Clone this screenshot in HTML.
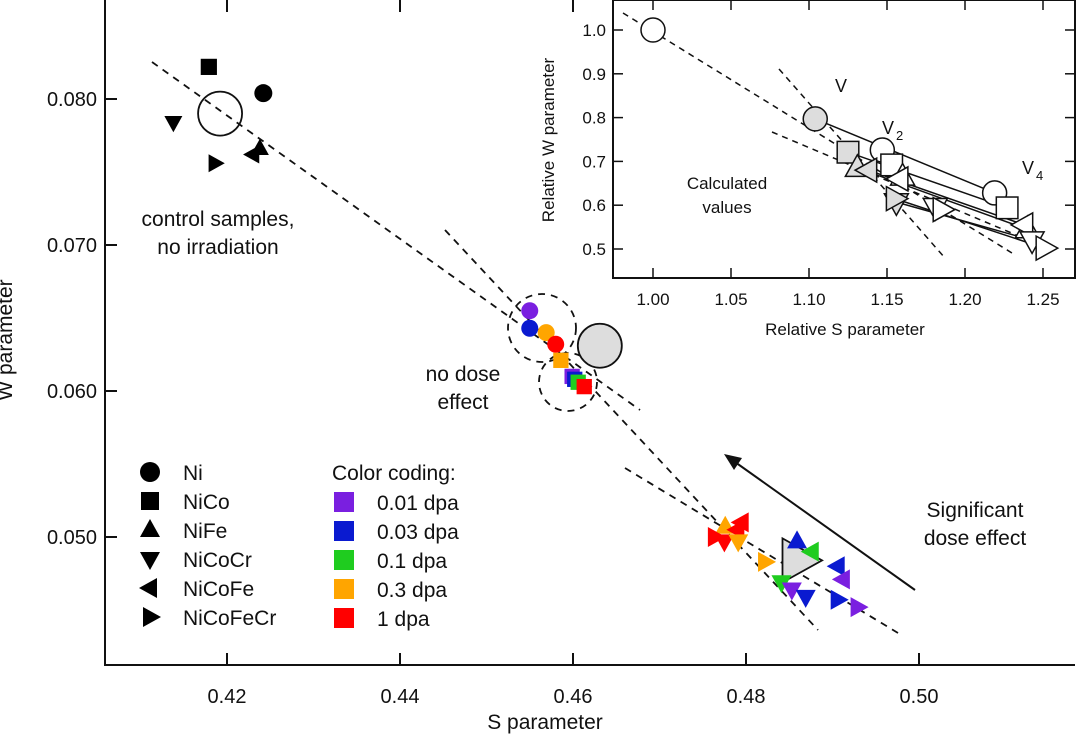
<!DOCTYPE html>
<html><head><meta charset="utf-8"><style>
body{margin:0;background:#fff}
svg{display:block;font-family:"Liberation Sans",sans-serif}
</style></head><body>
<svg id="c" width="1080" height="738" viewBox="0 0 1080 738"></svg>
<script>
// main data
const xTicks=[0.42,0.44,0.46,0.48,0.50];
const xTickLabels=["0.42","0.44","0.46","0.48","0.50"];
const yTicks=[0.050,0.060,0.070,0.080];
const yTickLabels=["0.050","0.060","0.070","0.080"];
const ctrlShapes=["square","circle","down","right","left","up"];
const ctrlS=[0.4179,0.4242,0.4138,0.4186,0.4230,0.4238];
const ctrlW=[0.0822,0.0804,0.0784,0.0756,0.0762,0.0766];
const noDoseShapes=["circle","circle","circle","circle","square","square","square","square","square"];
const noDoseColors=["#7a1fe0","#0a1ad0","#ffa500","#f00","#ffa500","#7a1fe0","#0a1ad0","#1fcc1f","#f00"];
const noDoseS=[0.4550,0.4550,0.4569,0.4580,0.4586,0.4599,0.4602,0.4606,0.4613];
const noDoseW=[0.0655,0.0643,0.0640,0.0632,0.0621,0.0610,0.0608,0.0606,0.0603];
const doseShapes=["up","right","left","left","down","down","right","up","left","left","left","down","down","down","right","right"];
const doseColors=["#ffa500","#f00","#f00","#f00","#f00","#ffa500","#ffa500","#0a1ad0","#1fcc1f","#0a1ad0","#7a1fe0","#1fcc1f","#7a1fe0","#0a1ad0","#0a1ad0","#7a1fe0"];
const doseS=[0.4776,0.4764,0.4795,0.4790,0.4775,0.4791,0.4822,0.4859,0.4876,0.4906,0.4912,0.4841,0.4853,0.4869,0.4906,0.4929];
const doseW=[0.0507,0.0500,0.0510,0.0505,0.0497,0.0497,0.0483,0.0497,0.0490,0.0480,0.0471,0.0469,0.0464,0.0459,0.0457,0.0452];
const refCtrl=[0.4192,0.0790];
const refNoDose=[0.4631,0.0631];
const refDose=[0.4860,0.0484];
// inset data
const ixTicks=[1.00,1.05,1.10,1.15,1.20,1.25];
const ixTickLabels=["1.00","1.05","1.10","1.15","1.20","1.25"];
const iyTicks=[0.5,0.6,0.7,0.8,0.9,1.0];
const iyTickLabels=["0.5","0.6","0.7","0.8","0.9","1.0"];
const iShapes=["circle","square","up","left","down","right"];
const vS=[1.104,1.125,1.131,1.138,1.156,1.155];
const vW=[0.797,0.721,0.685,0.680,0.607,0.615];
const v2S=[1.147,1.153,1.160,1.158,1.181,1.185];
const v2W=[0.726,0.692,0.665,0.660,0.596,0.590];
const v4S=[1.219,1.227,1.240,1.238,1.243,1.251];
const v4W=[0.628,0.594,0.545,0.555,0.520,0.502];
const iRef=[1.00,1.00];

const NS="http://www.w3.org/2000/svg";
const svg=document.getElementById('c');
function el(t,a,p){const e=document.createElementNS(NS,t);for(const k in a)e.setAttribute(k,a[k]);(p||svg).appendChild(e);return e;}
const X=s=>227+(s-0.42)*8650;
const Y=w=>99+(0.080-w)*14600;
const IX=s=>653+(s-1)*1560;
const IY=w=>30+(1-w)*438;

function marker(shape,cx,cy,r,fill,stroke,sw,g){
  let e;
  if(shape==="circle")e=el('circle',{cx,cy,r},g);
  else if(shape==="square")e=el('rect',{x:cx-r*0.9,y:cy-r*0.9,width:r*1.8,height:r*1.8},g);
  else{
    let p;
    if(shape==="up")p=[[0,-1.1],[1,0.7],[-1,0.7]];
    if(shape==="down")p=[[0,1.1],[1,-0.7],[-1,-0.7]];
    if(shape==="left")p=[[-1.1,0],[0.7,-1],[0.7,1]];
    if(shape==="right")p=[[1.1,0],[-0.7,-1],[-0.7,1]];
    e=el('polygon',{points:p.map(q=>(cx+q[0]*r)+','+(cy+q[1]*r)).join(' ')},g);
  }
  e.setAttribute('fill',fill);e.setAttribute('stroke',stroke);e.setAttribute('stroke-width',sw);
  return e;
}
function txt(x,y,s,size,anchor,g){const t=el('text',{x,y,'font-size':size,'text-anchor':anchor||'start',fill:'#111'},g);t.textContent=s;return t;}

// main axes
const ax=el('g',{});

el('path',{d:'M105,0 V665 H1075',fill:'none',stroke:'#111','stroke-width':2},ax);
xTicks.forEach((v,i)=>{el('line',{x1:X(v),x2:X(v),y1:665,y2:653,stroke:'#111','stroke-width':2},ax);el('line',{x1:X(v),x2:X(v),y1:0,y2:12,stroke:'#111','stroke-width':2},ax);
  const t=txt(X(v),703,xTickLabels[i],20,'middle',ax);});
yTicks.forEach((v,i)=>{el('line',{x1:105,x2:117,y1:Y(v),y2:Y(v),stroke:'#111','stroke-width':2},ax);
  const t=txt(97,Y(v)+7,yTickLabels[i],20,'end',ax);});
const xt=txt(545,729,'S parameter',21,'middle');
const yt=txt(0,0,'W parameter',21,'middle');yt.setAttribute('transform','translate(12,340) rotate(-90)');

// dashed lines
const dl=el('g',{stroke:'#111','stroke-width':1.8,'stroke-dasharray':'7,6',fill:'none'});

el('line',{x1:152,y1:62,x2:640,y2:410},dl);
el('line',{x1:445,y1:230,x2:818,y2:630},dl);
el('line',{x1:625,y1:468,x2:898,y2:633},dl);
el('circle',{cx:542,cy:328,r:34},dl);
el('circle',{cx:568,cy:382,r:29},dl);

// markers
const mk=el('g',{});
ctrlS.forEach((s,i)=>{const m=marker(ctrlShapes[i],X(s),Y(ctrlW[i]),9,'#000','none',0,mk);});
let m=marker('circle',X(refCtrl[0]),Y(refCtrl[1]),22,'none','#111',1.8,mk);
m=marker('circle',X(refNoDose[0]),Y(refNoDose[1]),22,'#ddd','#111',1.8,mk);
noDoseS.forEach((s,i)=>{const q=marker(noDoseShapes[i],X(s),Y(noDoseW[i]),8.5,noDoseColors[i],'none',0,mk);});
m=marker('right',X(refDose[0]),Y(refDose[1]),22,'#ddd','#111',1.8,mk);
doseS.forEach((s,i)=>{const q=marker(doseShapes[i],X(s),Y(doseW[i]),10,doseColors[i],'none',0,mk);});

// arrow
const ar=el('g',{});
el('line',{x1:915,y1:590,x2:735,y2:462,stroke:'#111','stroke-width':2},ar);
el('polygon',{points:'724,454 742,458 734,470',fill:'#111'},ar);

// annotations
[['control samples,',218,226],['no irradiation',218,254],['no dose',463,381],['effect',463,409],['Significant',975,517],['dose effect',975,545]].forEach(a=>{const t=txt(a[1],a[2],a[0],21,'middle');});

// legend
const lg=el('g',{});
const lNames=["Ni","NiCo","NiFe","NiCoCr","NiCoFe","NiCoFeCr"];
const lShapes=["circle","square","up","down","left","right"];
const cNames=["0.01 dpa","0.03 dpa","0.1 dpa","0.3 dpa","1 dpa"];
const cCols=["#7a1fe0","#0a1ad0","#1fcc1f","#ffa500","#f00"];
lNames.forEach((n,i)=>{const y=472+i*29;const g=el('g',{},lg);
  marker(lShapes[i],150,y,10,'#000','none',0,g);txt(183,y+8,n,21,'start',g);});
txt(332,480,'Color coding:',21,'start',lg);
cNames.forEach((n,i)=>{const y=502+i*29;const g=el('g',{},lg);
  el('rect',{x:334,y:y-10,width:20,height:20,fill:cCols[i]},g);txt(377,y+8,n,21,'start',g);});

// inset
const ins=el('g',{});
el('rect',{x:613,y:0,width:462,height:278,fill:'#fff',stroke:'#111','stroke-width':2},ins);
ixTicks.forEach((v,i)=>{el('line',{x1:IX(v),x2:IX(v),y1:278,y2:268,stroke:'#111','stroke-width':1.5},ins);el('line',{x1:IX(v),x2:IX(v),y1:0,y2:10,stroke:'#111','stroke-width':1.5},ins);
  const t=txt(IX(v),305,ixTickLabels[i],17,'middle',ins);});
iyTicks.forEach((v,i)=>{el('line',{x1:613,x2:623,y1:IY(v),y2:IY(v),stroke:'#111','stroke-width':1.5},ins);el('line',{x1:1075,x2:1065,y1:IY(v),y2:IY(v),stroke:'#111','stroke-width':1.5},ins);
  const t=txt(606,IY(v)+6,iyTickLabels[i],17,'end',ins);});
let t2=txt(845,335,'Relative S parameter',17,'middle',ins);
t2=txt(0,0,'Relative W parameter',17,'middle',ins);t2.setAttribute('transform','translate(554,140) rotate(-90)');
const idl=el('g',{stroke:'#111','stroke-width':1.5,'stroke-dasharray':'6,5',fill:'none'},ins);
el('line',{x1:623,y1:13,x2:1012,y2:253},idl);
el('line',{x1:779,y1:69,x2:945,y2:258},idl);
el('line',{x1:772,y1:132,x2:1040,y2:245},idl);
const il=el('g',{stroke:'#111','stroke-width':1.5},ins);
vS.forEach((s,i)=>{el('line',{x1:IX(s),y1:IY(vW[i]),x2:IX(v4S[i]),y2:IY(v4W[i])},il);});
m=marker('circle',IX(iRef[0]),IY(iRef[1]),12,'#fff','#111',1.5,ins);
[[v4S,v4W,'#fff'],[v2S,v2W,'#fff'],[vS,vW,'#ddd']].forEach(set=>{set[0].forEach((s,i)=>{const q=marker(iShapes[i],IX(s),IY(set[1][i]),12,set[2],'#111',1.5,ins);});});
[['V',835,92],['V',882,134],['V',1022,174]].forEach(a=>{const t=txt(a[1],a[2],a[0],18,'start',ins);});
txt(896,140,'2',13,'start',ins);txt(1036,180,'4',13,'start',ins);
t2=txt(727,189,'Calculated',17,'middle',ins);
t2=txt(727,213,'values',17,'middle',ins);
</script>
</body></html>
